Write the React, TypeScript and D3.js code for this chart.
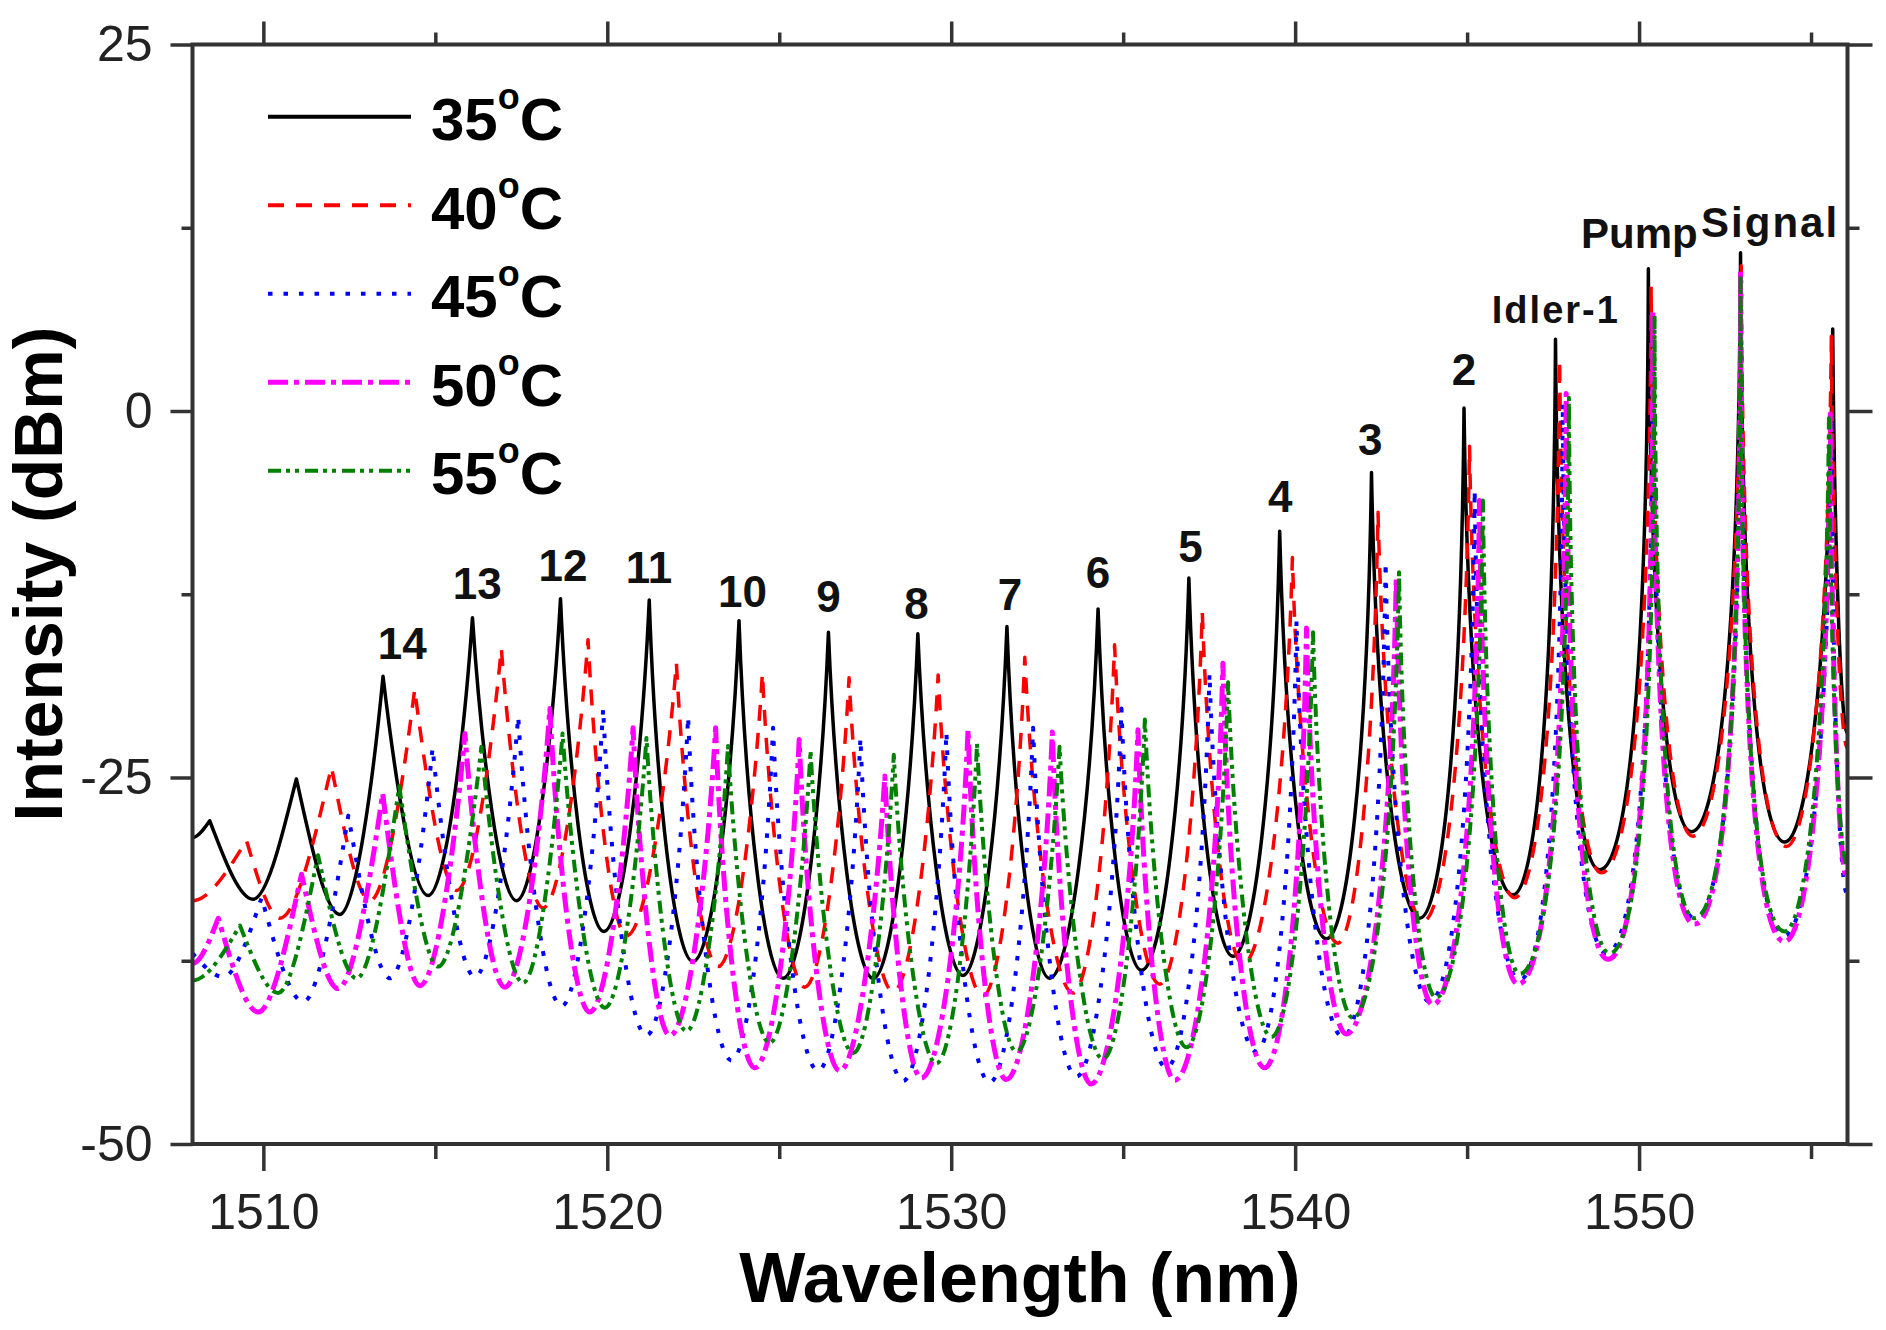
import * as d3 from "d3"
import { useEffect, useRef } from "react"

type Pt = [number, number]

// legend entries (temperature, degrees C)
const temps = ["35", "40", "45", "50", "55"]

// peak / valley vertices of each trace: [wavelength nm, intensity dBm]
const trace35: Pt[] = [
  [1507.94, -29.1], [1508.44, -27.95], [1509.7, -33.3], [1510.96, -25.1], [1512.22, -34.35],
  [1513.48, -18.1], [1514.79, -33.05], [1516.08, -14.1], [1517.36, -33.4], [1518.64, -12.8],
  [1519.9, -35.5], [1521.22, -12.9], [1522.49, -37.55], [1523.83, -14.3], [1525.11, -38.7],
  [1526.43, -15.1], [1527.73, -38.7], [1529.03, -15.2], [1530.34, -38.5], [1531.62, -14.7],
  [1532.86, -38.7], [1534.27, -13.5], [1535.53, -38.15], [1536.91, -11.4], [1538.19, -37.2],
  [1539.55, -8.2], [1540.91, -36.0], [1542.22, -4.2], [1543.62, -34.6], [1544.91, 0.2],
  [1546.33, -33.0], [1547.57, 4.9], [1548.85, -31.3], [1550.27, 9.7], [1551.52, -28.7],
  [1552.95, 10.8], [1554.23, -29.4], [1555.63, 5.6], [1556.06, -22],
]
const trace40: Pt[] = [
  [1507.94, -33.4], [1509.51, -29.3], [1510.48, -34.6], [1511.98, -24.3], [1513.1, -33.4],
  [1514.4, -19.0], [1515.62, -32.7], [1516.92, -16.2], [1518.13, -33.9], [1519.44, -15.6],
  [1520.56, -35.8], [1522.01, -17.2], [1523.22, -37.9], [1524.51, -17.9], [1525.74, -39.3],
  [1527.03, -18.2], [1528.31, -39.6], [1529.62, -18.0], [1530.92, -39.9], [1532.14, -16.8],
  [1533.54, -39.7], [1534.75, -15.95], [1536.06, -39.1], [1537.3, -13.7], [1538.48, -37.7],
  [1539.92, -10.0], [1541.24, -36.3], [1542.41, -6.9], [1543.72, -34.8], [1545.07, -2.4],
  [1546.38, -33.2], [1547.69, 3.5], [1548.9, -31.5], [1550.35, 8.55], [1551.56, -29.0],
  [1552.97, 9.9], [1554.28, -29.7], [1555.59, 5.1], [1556.06, -23],
]
const trace45: Pt[] = [
  [1507.94, -37.0], [1508.83, -38.6], [1509.95, -33.2], [1511.16, -40.3], [1512.47, -27.6],
  [1513.68, -38.7], [1514.92, -23.0], [1516.15, -38.6], [1517.41, -20.85], [1518.67, -40.6],
  [1519.88, -20.3], [1521.14, -42.6], [1522.35, -20.85], [1523.61, -44.3], [1524.82, -21.6],
  [1526.13, -45.0], [1527.36, -22.3], [1528.6, -45.7], [1529.86, -21.9], [1531.12, -45.8],
  [1532.38, -21.6], [1533.64, -45.4], [1534.95, -20.3], [1536.26, -44.8], [1537.51, -17.9],
  [1538.87, -43.7], [1540.04, -14.3], [1541.39, -42.7], [1542.63, -10.3], [1543.91, -40.3],
  [1545.22, -5.4], [1546.53, -38.8], [1547.78, 0.55], [1549.05, -37.0], [1550.4, 6.1],
  [1551.61, -34.6], [1552.97, 8.9], [1554.23, -35.8], [1555.59, -0.5], [1556.06, -33],
]
const trace50: Pt[] = [
  [1507.94, -37.7], [1508.69, -34.6], [1509.85, -41.0], [1511.11, -31.6], [1512.17, -39.4],
  [1513.47, -26.1], [1514.55, -39.2], [1515.86, -22.0], [1517.02, -39.3], [1518.33, -20.3],
  [1519.49, -41.0], [1520.75, -21.6], [1521.82, -42.6], [1523.15, -21.6], [1524.29, -44.8],
  [1525.58, -22.4], [1526.76, -45.0], [1528.07, -24.9], [1529.13, -45.5], [1530.49, -21.7],
  [1531.6, -45.6], [1532.94, -21.9], [1534.07, -45.9], [1535.43, -21.75], [1536.5, -45.65],
  [1537.9, -17.2], [1539.11, -44.8], [1540.33, -14.8], [1541.49, -42.5], [1542.94, -11.3],
  [1544.0, -40.5], [1545.36, -6.1], [1546.48, -39.1], [1547.88, 1.2], [1549.09, -37.4],
  [1550.4, 6.8], [1551.61, -35.0], [1552.95, 9.6], [1554.23, -36.2], [1555.56, -0.2], [1556.06, -32],
]
const trace55: Pt[] = [
  [1507.94, -38.85], [1509.32, -35.1], [1510.43, -39.7], [1511.59, -30.3], [1512.71, -38.7],
  [1513.95, -25.6], [1515.08, -37.9], [1516.34, -22.9], [1517.55, -39.0], [1518.7, -22.0],
  [1519.93, -40.7], [1521.14, -22.3], [1522.3, -42.3], [1523.51, -22.85], [1524.72, -43.1],
  [1525.91, -23.2], [1527.15, -43.8], [1528.33, -23.45], [1529.57, -44.5], [1530.75, -22.7],
  [1531.9, -43.7], [1533.15, -22.9], [1534.41, -44.2], [1535.63, -21.05], [1536.84, -43.4],
  [1538.05, -18.5], [1539.31, -42.7], [1540.52, -15.1], [1541.68, -41.4], [1543.02, -11.0],
  [1544.1, -40.0], [1545.46, -6.1], [1546.53, -38.4], [1547.96, 0.9], [1549.14, -37.0],
  [1550.45, 6.5], [1551.61, -34.6], [1552.95, 9.2], [1554.23, -35.5], [1555.52, -0.5], [1556.06, -31],
]
const traces = [trace35, trace40, trace45, trace50, trace55]

// peak labels and where they sit, in data units
const peakLabels = ["14", "13", "12", "11", "10", "9", "8", "7", "6", "5", "4", "3", "2", "Idler-1", "Pump", "Signal"]
const labelWl = [1514.04, 1516.22, 1518.71, 1521.21, 1523.93, 1526.43, 1528.99, 1531.71, 1534.27, 1536.96, 1539.57, 1542.18, 1544.91, 1547.58, 1550.01, 1553.81]
const labelDb = [-16.9, -12.8, -11.6, -11.7, -13.4, -13.7, -14.2, -13.6, -12.1, -10.3, -6.9, -3.0, 1.8, 6.0, 11.1, 11.9]

const xMajor = [1510, 1520, 1530, 1540, 1550]
const xMinor = [1515, 1525, 1535, 1545, 1555]
const yMajor = [-50, -25, 0, 25]
const yMinor = [-37.5, -12.5, 12.5]

// styles
const colors = ["#000000", "#ff0000", "#0000ff", "#ff00ff", "#008000"]
const dashes = ["none", "16 12", "4.5 11", "20 6 5 6", "13 5 4 5 4 6"]
const widths = [3.5, 3.5, 4, 5, 4]

const FONT = "'Liberation Sans', Arial, sans-serif"
const AXIS = "#333"

// resonance shape between a valley and a peak: round at the valley,
// sharper toward the peak the deeper the contrast
const spikeCurve = (pxPerDb: number) => (context: any) => {
  let px = NaN
  let py = NaN
  let started = false
  return {
    areaStart() {},
    areaEnd() {},
    lineStart() {
      started = false
    },
    lineEnd() {},
    point(x: number, y: number) {
      if (!started) {
        context.moveTo(x, y)
        started = true
      } else {
        const rising = y < py
        const tx = rising ? px : x
        const ty = rising ? py : y
        const pkx = rising ? x : px
        const pky = rising ? y : py
        const s = Math.max(0, Math.min(1, (Math.abs(y - py) / pxPerDb - 12) / 32))
        const a = 0.35 + 0.15 * s
        const u = 0.75 + 0.25 * s
        const b = 0.65 - 0.45 * s
        const c1x = tx + a * (pkx - tx)
        const c1y = ty
        const c2x = tx + u * (pkx - tx)
        const c2y = ty + b * (pky - ty)
        if (rising) context.bezierCurveTo(c1x, c1y, c2x, c2y, x, y)
        else context.bezierCurveTo(c2x, c2y, c1x, c1y, x, y)
      }
      px = x
      py = y
    },
  }
}

export default function App() {
  const svgRef = useRef<SVGSVGElement>(null)
  const width = 1886
  const height = 1330

  useEffect(() => {
    if (!svgRef.current) return
    const svg = d3.select(svgRef.current)
    svg.selectAll("*").remove()

    const left = 192.5
    const right = 1847.5
    const top = 44.5
    const bottom = 1144

    const x = d3.scaleLinear().domain([1507.94, 1556.06]).range([left, right])
    const y = d3.scaleLinear().domain([-50, 25]).range([bottom, top])
    const pxPerDb = (bottom - top) / 75

    svg
      .append("defs")
      .append("clipPath")
      .attr("id", "plotClip")
      .append("rect")
      .attr("x", left)
      .attr("y", top)
      .attr("width", right - left)
      .attr("height", bottom - top)

    // traces
    const line = d3
      .line<Pt>()
      .x((d) => x(d[0]))
      .y((d) => y(d[1]))
      .curve(spikeCurve(pxPerDb) as any)

    const plot = svg.append("g").attr("clip-path", "url(#plotClip)")
    traces.forEach((t, i) => {
      plot
        .append("path")
        .attr("d", line(t) || "")
        .attr("fill", "none")
        .attr("stroke", colors[i])
        .attr("stroke-width", widths[i])
        .attr("stroke-dasharray", dashes[i])
        .attr("stroke-linejoin", "round")
    })

    // axes
    const styleAxis = (g: d3.Selection<SVGGElement, unknown, null, undefined>) => {
      g.select(".domain").remove()
      g.selectAll(".tick line").attr("stroke", AXIS).attr("stroke-width", 3.5)
      g.selectAll(".tick text")
        .attr("fill", "#222")
        .style("font-family", FONT)
        .style("font-size", "50px")
    }
    const noLabel = () => ""
    const plain = (d: d3.NumberValue) => String(d)

    svg
      .append("g")
      .attr("transform", `translate(0,${bottom})`)
      .call(d3.axisBottom(x).tickValues(xMajor).tickSize(27).tickPadding(22).tickFormat(plain))
      .call(styleAxis)
    svg
      .append("g")
      .attr("transform", `translate(0,${bottom})`)
      .call(d3.axisBottom(x).tickValues(xMinor).tickSize(15).tickFormat(noLabel))
      .call(styleAxis)
    svg
      .append("g")
      .attr("transform", `translate(0,${top})`)
      .call(d3.axisTop(x).tickValues(xMajor).tickSize(23).tickFormat(noLabel))
      .call(styleAxis)
    svg
      .append("g")
      .attr("transform", `translate(0,${top})`)
      .call(d3.axisTop(x).tickValues(xMinor).tickSize(12).tickFormat(noLabel))
      .call(styleAxis)
    svg
      .append("g")
      .attr("transform", `translate(${left},0)`)
      .call(d3.axisLeft(y).tickValues(yMajor).tickSize(22).tickPadding(18).tickFormat(plain))
      .call(styleAxis)
    svg
      .append("g")
      .attr("transform", `translate(${left},0)`)
      .call(d3.axisLeft(y).tickValues(yMinor).tickSize(11).tickFormat(noLabel))
      .call(styleAxis)
    svg
      .append("g")
      .attr("transform", `translate(${right},0)`)
      .call(d3.axisRight(y).tickValues(yMajor).tickSize(25).tickFormat(noLabel))
      .call(styleAxis)
    svg
      .append("g")
      .attr("transform", `translate(${right},0)`)
      .call(d3.axisRight(y).tickValues(yMinor).tickSize(12).tickFormat(noLabel))
      .call(styleAxis)

    svg
      .append("rect")
      .attr("x", left)
      .attr("y", top)
      .attr("width", right - left)
      .attr("height", bottom - top)
      .attr("fill", "none")
      .attr("stroke", AXIS)
      .attr("stroke-width", 4)

    // axis titles
    svg
      .append("text")
      .attr("x", (left + right) / 2)
      .attr("y", 1302)
      .attr("text-anchor", "middle")
      .style("font-family", FONT)
      .style("font-size", "70px")
      .style("font-weight", "700")
      .text("Wavelength (nm)")
    svg
      .append("text")
      .attr("transform", "translate(62,574) rotate(-90)")
      .attr("text-anchor", "middle")
      .style("font-family", FONT)
      .style("font-size", "68px")
      .style("font-weight", "700")
      .text("Intensity (dBm)")

    // peak labels
    svg
      .append("g")
      .selectAll("text")
      .data(peakLabels)
      .enter()
      .append("text")
      .attr("x", (_, i) => x(labelWl[i]))
      .attr("y", (_, i) => y(labelDb[i]))
      .attr("text-anchor", "middle")
      .attr("fill", "#111")
      .style("font-family", FONT)
      .style("font-weight", "700")
      .style("font-size", (d) => (d === "Idler-1" ? "38px" : d.length > 2 ? "42px" : "44px"))
      .style("letter-spacing", (d) => (d.length > 4 ? "2px" : "0px"))
      .text((d) => d)

    // legend
    const legend = svg.append("g")
    temps.forEach((t, i) => {
      const ly = 116.7 + i * 88.5
      legend
        .append("line")
        .attr("x1", 268)
        .attr("x2", 411)
        .attr("y1", ly)
        .attr("y2", ly)
        .attr("stroke", colors[i])
        .attr("stroke-width", i === 3 ? 5 : 4)
        .attr("stroke-dasharray", dashes[i])
      const txt = legend
        .append("text")
        .attr("x", 431)
        .attr("y", ly + 23.3)
        .style("font-family", FONT)
        .style("font-weight", "700")
        .style("font-size", "60px")
        .attr("fill", "#000")
      txt.append("tspan").text(t)
      txt.append("tspan").attr("dy", -31).style("font-size", "36px").text("o")
      txt.append("tspan").attr("dy", 31).text("C")
    })
  }, [])

  return (
    <div style={{ position: "absolute", left: 0, top: 0 }}>
      <svg ref={svgRef} width={width} height={height} style={{ display: "block", background: "#fff" }}></svg>
    </div>
  )
}
